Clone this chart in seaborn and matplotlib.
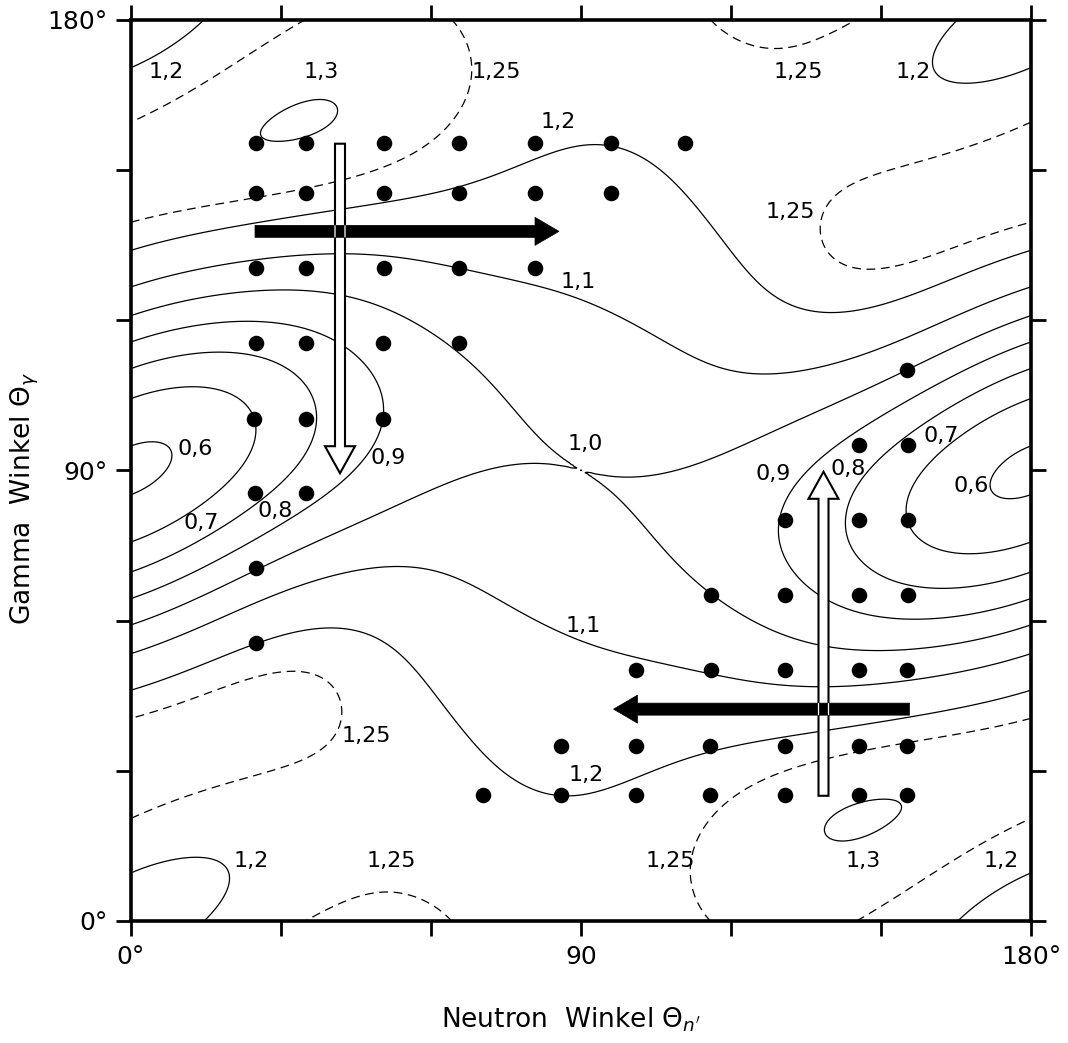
import numpy as np
import pandas as pd
import seaborn as sns
import matplotlib.pyplot as plt
from matplotlib.patches import FancyArrow

sns.set_theme(style="ticks")
plt.rcParams['font.family'] = ['DejaVu Sans']
plt.rcParams['mathtext.fontset'] = 'dejavusans'
plt.rcParams['text.color'] = 'black'
plt.rcParams['xtick.color'] = 'black'
plt.rcParams['ytick.color'] = 'black'

# contour traces: (neutron angle, gamma angle)
trace_060 = [(0, 95.2), (3.8, 95.2), (7.5, 91.9), (3.8, 86.9), (0, 85.9),
             (180, 93.9), (174.5, 91.5), (173.1, 87.9), (175.1, 85.5), (180, 84.9)]
trace_070 = [(0, 104.9), (12.1, 106.9), (18.8, 107.2), (22.1, 105.5), (24.5, 100.2), (24.1, 94.9),
             (21.5, 88.2), (17.1, 82.2), (12.1, 79.9), (7.1, 78.2), (0, 76.2),
             (180, 103.5), (165.5, 94.9), (159.1, 91.5), (155.5, 84.9), (155.3, 80.0),
             (158.8, 75.9), (165.8, 72.9), (180, 75.5)]
trace_080 = [(0, 111.5), (12.1, 112.9), (24.5, 113.9), (30.1, 112.2), (34.8, 108.2), (36.5, 102.2),
             (36.1, 97.5), (32.8, 90.9), (26.8, 84.5), (18.8, 77.8), (12.1, 74.5), (0, 69.8),
             (180, 110.5), (165.5, 101.5), (155.5, 95.5), (150.1, 92.2), (146.1, 88.2), (145.5, 79.9),
             (144.1, 74.5), (147.5, 69.9), (155.5, 66.5), (180, 69.5)]
trace_090 = [(0, 116.2), (12.1, 118.2), (25.5, 119.9), (35.5, 119.5), (44.1, 116.2), (48.1, 110.9),
             (49.8, 104.9), (49.8, 100.2), (48.1, 94.9), (42.1, 88.2), (35.5, 83.8), (25.5, 77.2),
             (12.1, 69.2), (0, 64.9),
             (180, 114.9), (155.5, 106.9), (145.5, 101.5), (138.8, 96.2), (131.5, 88.2), (130.8, 80.5),
             (130.1, 74.5), (135.9, 64.0), (144.5, 60.8), (155.5, 60.5), (180, 64.2)]
# the 1,0 level: two branches crossing at the saddle near (90, 90)
trace_100a = [(0, 121.7), (12.1, 124.2), (25.5, 125.9), (38.8, 125.9), (48.8, 123.5), (58.8, 118.9),
              (65.5, 113.5), (72.1, 106.9), (78.8, 100.2), (85.5, 94.2), (88.8, 91.2), (90, 90),
              (102.1, 79.9), (115.8, 65.2), (128.8, 59.2), (142.1, 55.9), (155.5, 54.9),
              (168.8, 56.5), (180, 58.5)]
trace_100b = [(0, 59.5), (12.1, 63.9), (24.8, 70.5), (38.8, 77.2), (52.1, 83.2), (65.5, 88.5),
              (75.5, 90.5), (85.5, 90.2), (88.8, 89.9), (102.1, 88.5), (115.5, 92.2), (128.8, 98.9),
              (142.1, 104.9), (155.5, 109.9), (180, 120.2)]
trace_110 = [(0, 127.2), (12.1, 130.2), (25.5, 132.5), (38.8, 133.5), (52.1, 133.2), (65.5, 130.3),
             (78.8, 128.5), (92.8, 122.9), (102.1, 118.9), (112.1, 112.9), (118.8, 109.5),
             (128.8, 108.5), (142.1, 110.2), (155.5, 115.5), (180, 125.9),
             (0, 54.2), (12.1, 58.5), (25.5, 64.5), (38.8, 69.9), (52.1, 71.3), (62.1, 69.9),
             (72.1, 64.5), (82.1, 59.2), (89.8, 57.2), (102.1, 52.5), (115.8, 50.9), (128.8, 47.5),
             (142.1, 46.5), (155.5, 48.5), (180, 52.9)]
trace_120 = [(0, 134.5), (13.8, 138.0), (27.1, 140.4), (43.1, 142.5), (53.8, 144.2), (67.1, 146.9),
             (80.5, 152.2), (90, 154.9), (95.8, 154.9), (102.5, 152.9), (110.5, 146.9), (115.8, 138.9),
             (122.1, 131.5), (128.8, 124.9), (138.8, 120.9), (148.8, 121.5), (162.1, 125.5), (180, 133.3),
             (0, 46.7), (24.8, 55.5), (35.5, 58.2), (42.1, 58.5), (52.1, 53.9), (58.8, 48.1),
             (65.5, 39.2), (70.5, 34.2), (77.1, 28.9), (85.9, 25.2), (92.5, 25.9), (99.1, 27.5),
             (105.8, 30.5), (115.8, 33.5), (130.8, 36.2), (145.8, 39.5), (159.1, 42.9), (180, 45.9),
             (0, 171.2), (7.3, 175.7), (15.1, 180), (164.8, 180), (160.5, 172.2), (165.8, 167.2),
             (180, 170.2), (0, 9.9), (13.1, 13.2), (19.5, 9.5), (15.1, 0), (165.1, 0), (172.5, 5.5),
             (180, 8.9)]
trace_125 = [(0, 139.9), (13.8, 141.9), (27.1, 144.5), (40.5, 147.2), (50.5, 150.2), (57.1, 153.5),
             (63.1, 158.2), (66.5, 162.2), (67.8, 168.2), (64.8, 180),
             (0, 159.9), (7.1, 163.5), (15.1, 167.9), (23.8, 172.9), (35.8, 180),
             (179, 158.9), (165.8, 153.9), (152.5, 149.5), (142.5, 146.2), (138.5, 142.2), (137.5, 138.2),
             (139.5, 133.5), (145.5, 131.2), (155.5, 131.5), (180, 139.2),
             (115.5, 180), (120.5, 176.9), (127.8, 174.5), (136.5, 175.2), (144.8, 180),
             (35.5, 0), (50.5, 5.4), (64.5, 0),
             (0, 41.3), (12.1, 44.5), (25.5, 48.2), (32.1, 49.2), (38.8, 48.5), (41.8, 44.2),
             (41.8, 39.5), (37.1, 33.5), (30.5, 30.2), (17.1, 26.2), (0, 21.2),
             (180, 40.5), (165.8, 36.9), (155.1, 34.9), (145.8, 34.2), (139.1, 32.5), (129.1, 28.9),
             (119.1, 24.2), (113.8, 17.5), (112.5, 9.5), (115.8, 0),
             (180, 20.2), (169.1, 14.9), (159.1, 9.5), (144.5, 0)]
trace_130 = [(26.8, 157.5), (29.1, 156.9), (39.1, 159.5), (40.5, 162.9), (37.8, 165.2), (32.5, 164.2),
             (27.8, 160.2),
             (139.8, 18.2), (142.5, 21.5), (149.8, 24.2), (153.1, 24.2), (153.8, 21.5), (150.5, 17.5),
             (144.5, 14.9), (140.5, 16.2)]
# estimated values at minima, maxima and the saddle (x, y, value, weight)
extra_pts = [(0, 90, 0.56, 1), (180, 90, 0.56, 1), (90, 90, 1.0, 40), (33.6, 161.0, 1.31, 1),
             (146.8, 19.6, 1.31, 1), (0, 0, 1.16, 1), (90, 180, 1.22, 1), (90, 0, 1.22, 1)]
saddle = (90, 90)

solid_levels = [0.6, 0.7, 0.8, 0.9, 1.1, 1.2, 1.3]
dashed_levels = [1.25]

# measuring points
dot_rows_y = [155.3, 145.3, 130.3, 115.5, 100.2, 85.4, 70.5, 55.5,
              25.2, 35.0, 50.2, 65.0, 80.0, 95.0, 110.0]
dot_rows_x = [[25, 35, 50.6, 65.5, 80.7, 96, 110.8],
              [25, 35, 50.6, 65.5, 80.7, 96],
              [25, 35, 50.6, 65.5, 80.7],
              [25, 35, 50.4, 65.6],
              [24.5, 35, 50.3],
              [24.8, 35],
              [25],
              [25],
              [70.3, 86, 101, 115.7, 130.7, 145.6, 155.2],
              [86, 101, 115.7, 130.7, 145.6, 155.2],
              [101, 116, 130.8, 145.5, 155.2],
              [116, 130.7, 145.5, 155.4],
              [130.8, 145.6, 155.3],
              [145.5, 155.3],
              [155.1]]

label_text = ["1,2", "1,3", "1,25", "1,2", "1,1", "1,25", "1,2", "1,25",
              "0,6", "0,7", "0,8", "0,9", "1,0", "0,9", "0,8", "0,7", "0,6", "1,1",
              "1,25", "1,2", "1,25", "1,2", "1,25", "1,3", "1,2"]
label_x = [7.1, 38.1, 73.1, 85.5, 89.5, 133.5, 156.5, 131.8,
           12.8, 14.1, 28.8, 51.5, 90.8, 128.5, 143.5, 162.1, 168.1, 90.5,
           47.1, 24.1, 52.1, 91.1, 107.8, 146.5, 174.1]
label_y = [169.5, 169.5, 169.5, 159.6, 127.5, 169.5, 169.5, 141.5,
           94.2, 79.5, 81.9, 92.5, 95.2, 89.2, 90.2, 96.9, 86.9, 58.9,
           36.9, 11.9, 11.9, 29.2, 11.9, 11.9, 11.9]

# arrows: tail (x, y), tip (x, y)
black_arrows = [((24.8, 137.7), (85.6, 137.7)), ((155.7, 42.3), (96.5, 42.3))]
open_arrows = [((41.8, 155.2), (41.8, 89.4)), ((138.5, 25.0), (138.5, 89.7))]

# smooth periodic surface through the traced contour points
traces = {0.6: trace_060, 0.7: trace_070, 0.8: trace_080, 0.9: trace_090,
          1.0: trace_100a + trace_100b, 1.1: trace_110, 1.2: trace_120, 1.25: trace_125,
          1.3: trace_130}
rows = [(x, y, lev, 0.0) for lev, pts in traces.items() for x, y in pts]
rows += [(x, y, v, wt) for x, y, v, wt in extra_pts]
pts = pd.DataFrame(rows, columns=["x", "y", "val", "extra"])
boost = np.where(np.isclose(pts.val, 1.0) & (pts.extra == 0), 2.0, 1.0)

K = 4
modes = [(m, n) for m in range(K + 1) for n in range(-K, K + 1) if m > 0 or n >= 0]
mm = np.array([m for m, n in modes], float)
nn = np.array([n for m, n in modes], float)
SIG = 16.0


def design(x, y):
    x = np.asarray(x, float)
    y = np.asarray(y, float)
    ph = np.radians(2 * x)[..., None] * mm + np.radians(2 * y)[..., None] * nn
    u = (x - saddle[0]) / SIG
    v = (y - saddle[1]) / SIG
    g = np.exp(-0.5 * (u * u + v * v))
    local = np.stack([g, g * u * u, g * u * v, g * v * v], axis=-1)
    return np.concatenate([np.cos(ph), local], axis=-1)


A = design(pts.x, pts.y)
h = 0.05
Dx = (design(pts.x + h, pts.y) - design(pts.x - h, pts.y)) / (2 * h)
Dy = (design(pts.x, pts.y + h) - design(pts.x, pts.y - h)) / (2 * h)
b = pts.val.values
pen = np.diag(np.concatenate([(mm ** 2 + nn ** 2) ** 2, np.full(4, 1.0)]))
w = np.ones(len(b))
for it in range(10):
    Aw = A * w[:, None]
    M = Aw.T @ Aw
    lam = 2e-5 * np.trace(M) / A.shape[1]
    coef = np.linalg.solve(M + lam * pen, Aw.T @ (b * w))
    grad = np.hypot(Dx @ coef, Dy @ coef)
    w = np.where(pts.extra.values > 0, pts.extra.values / 0.012, boost / (grad + 0.003))

grid = np.linspace(0, 180, 361)
XX, YY = np.meshgrid(grid, grid)
ZZ = design(XX, YY) @ coef
# the 1,0 line is drawn through the fitted saddle so both branches cross there
saddle_level = float(design(*saddle) @ coef)

fig = plt.figure(figsize=(10.68, 10.43), dpi=100)
ax = fig.add_axes([131 / 1068, 122 / 1043, 900 / 1068, 901.5 / 1043])

ax.contour(XX, YY, ZZ, levels=solid_levels, colors="black", linewidths=0.9, zorder=2)
ax.contour(XX, YY, ZZ, levels=[saddle_level], colors="black", linewidths=0.9, zorder=2)
ax.contour(XX, YY, ZZ, levels=dashed_levels, colors="black", linewidths=0.9,
           linestyles=[(0, (7, 4.5))], zorder=2)

dots = pd.DataFrame([(x, y) for y, xs in zip(dot_rows_y, dot_rows_x) for x in xs], columns=["x", "y"])
sns.scatterplot(data=dots, x="x", y="y", color="black", s=125, linewidth=0, ax=ax, zorder=6)

for (x0, y0), (x1, y1) in open_arrows:
    ax.add_patch(FancyArrow(x0, y0, x1 - x0, y1 - y0, width=2.0, head_width=6.0, head_length=5.4,
                            length_includes_head=True, fc="white", ec="black", lw=1.5, zorder=3))
black_patches = []
for (x0, y0), (x1, y1) in black_arrows:
    p = FancyArrow(x0, y0, x1 - x0, y1 - y0, width=2.4, head_width=5.6, head_length=4.8,
                   length_includes_head=True, fc="black", ec="black", lw=0.5, zorder=4)
    ax.add_patch(p)
    black_patches.append(p)
# outline of the open arrows shows through where they cross the black ones
for ((x0, y0), (x1, y1)), p in zip(open_arrows, black_patches):
    o = FancyArrow(x0, y0, x1 - x0, y1 - y0, width=2.0, head_width=6.0, head_length=5.4,
                   length_includes_head=True, fc="none", ec="white", lw=0.9, zorder=5)
    ax.add_patch(o)
    o.set_clip_path(p)

for t, x, y in zip(label_text, label_x, label_y):
    ax.text(x, y, t, fontsize=16, ha="center", va="center", color="black", zorder=7)

ax.set_xlim(0, 180)
ax.set_ylim(0, 180)
ax.set_xticks(range(0, 181, 30))
ax.set_yticks(range(0, 181, 30))
ax.set_xticklabels(["0°", "", "", "90", "", "", "180°"])
ax.set_yticklabels(["0°", "", "", "90°", "", "", "180°"])
ax.tick_params(direction="out", length=11, width=2, labelsize=18, pad=6, colors="black",
               top=True, right=True)
for sp in ax.spines.values():
    sp.set_linewidth(2.6)
    sp.set_color("black")
ax.set_xlabel("")
ax.set_ylabel("")

fig.text(571 / 1068, 1 - 1020 / 1043, r"Neutron  Winkel $\Theta_{n'}$", fontsize=19,
         ha="center", va="center", color="black")
fig.text(25 / 1068, 1 - 498 / 1043, r"Gamma  Winkel $\Theta_{\gamma}$", fontsize=19,
         ha="center", va="center", rotation=90, color="black")

fig.savefig("out.png", dpi=100, facecolor="white")
